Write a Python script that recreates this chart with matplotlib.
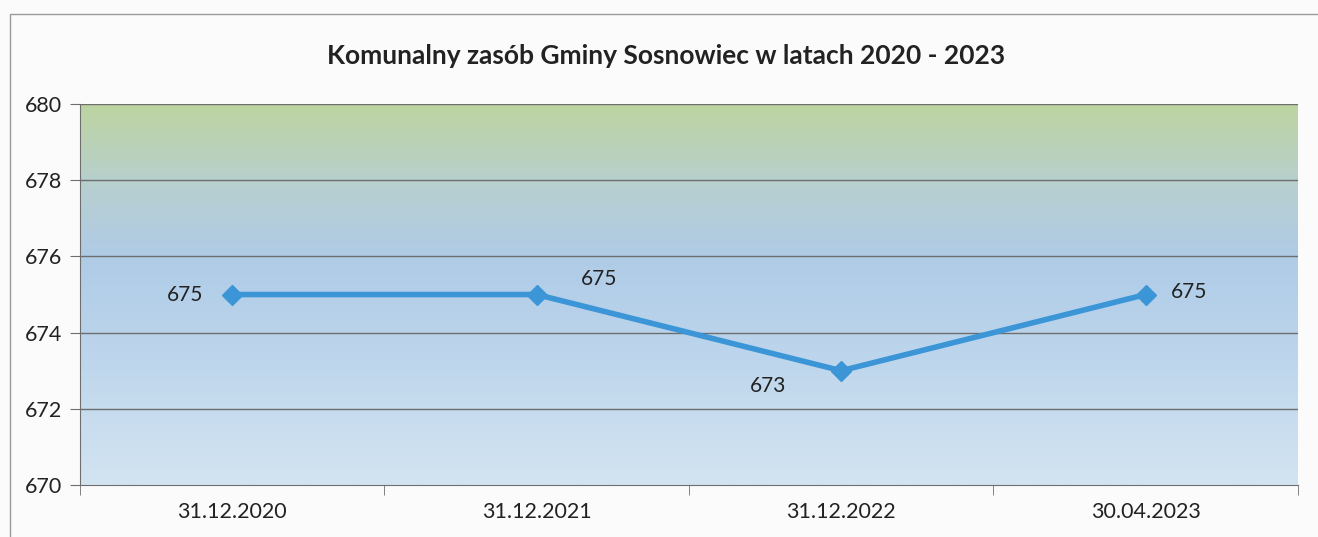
import numpy as np
import matplotlib
matplotlib.use("Agg")
import matplotlib.pyplot as plt
from matplotlib.colors import LinearSegmentedColormap
from matplotlib.patches import Rectangle

# ─── Data ────────────────────────────────────────────────────────────────────
dates  = ["31.12.2020", "31.12.2021", "31.12.2022", "30.04.2023"]
counts = [675, 675, 673, 675]
yticks = [670, 672, 674, 676, 678, 680]

# label offsets (points) per data point, as in the original
label_offsets = [(-34, 0), (45, 11), (-53, -11), (31, 2)]

# ─── Palette ─────────────────────────────────────────────────────────────────
LINE  = "#3b95d6"
TEXT  = "#222222"
GRID  = "#6e6e6e"
plt.rcParams["font.family"] = ["Lato", "DejaVu Sans"]

fig = plt.figure(figsize=(13.18, 5.37), dpi=100, facecolor="#fbfbfb")
ax = fig.add_axes([0.0607, 0.0968, 0.9241, 0.7095])

# outer chart frame
fig.patches.append(Rectangle((0.0076, -0.02), 1.1, 0.994, transform=fig.transFigure,
                             fill=False, ec="#9a9a9a", lw=1.0))

# gradient background: green top -> blue -> pale blue bottom
cmap = LinearSegmentedColormap.from_list(
    "bg", [(0.0, "#d3e4f1"), (0.35, "#bcd5ec"), (0.6, "#afcbe6"),
           (0.78, "#b7cfd0"), (1.0, "#bdd4a0")])
grad = np.linspace(0, 1, 256).reshape(-1, 1)
ax.imshow(grad, cmap=cmap, aspect="auto", origin="lower",
          extent=[0, len(dates), yticks[0], yticks[-1]], zorder=0)

x = np.arange(len(dates)) + 0.5
ax.plot(x, counts, color=LINE, lw=4, marker="D", ms=10,
        mec=LINE, mfc=LINE, zorder=3, solid_joinstyle="miter")

for xi, yi, off in zip(x, counts, label_offsets):
    ax.annotate(f"{yi}", (xi, yi), xytext=off, textcoords="offset points",
                ha="center", va="center", fontsize=15, color=TEXT)

ax.set_xlim(0, len(dates))
ax.set_ylim(yticks[0], yticks[-1])
ax.set_yticks(yticks)
ax.set_yticklabels([str(t) for t in yticks], fontsize=15.5, color=TEXT)
ax.set_xticks(x)
ax.set_xticklabels(dates, fontsize=15.5, color=TEXT)
ax.set_xticks(np.arange(len(dates) + 1), minor=True)
ax.tick_params(axis="x", which="major", length=0, pad=12)
ax.tick_params(axis="x", which="minor", length=7, color=GRID, direction="out")
ax.tick_params(axis="y", length=7, color=GRID, pad=6)

for t in yticks[1:]:
    ax.axhline(t, color=GRID, lw=1.0, zorder=1)

for side in ["top", "right"]:
    ax.spines[side].set_visible(False)
ax.spines["left"].set_color(GRID)
ax.spines["bottom"].set_color(GRID)
ax.spines["bottom"].set_zorder(2)

fig.text(0.505, 0.895, "Komunalny zasób Gminy Sosnowiec w latach 2020 - 2023",
         ha="center", va="center", fontsize=19, fontweight="bold", color=TEXT)

fig.savefig("out.png", dpi=100, facecolor=fig.get_facecolor())
